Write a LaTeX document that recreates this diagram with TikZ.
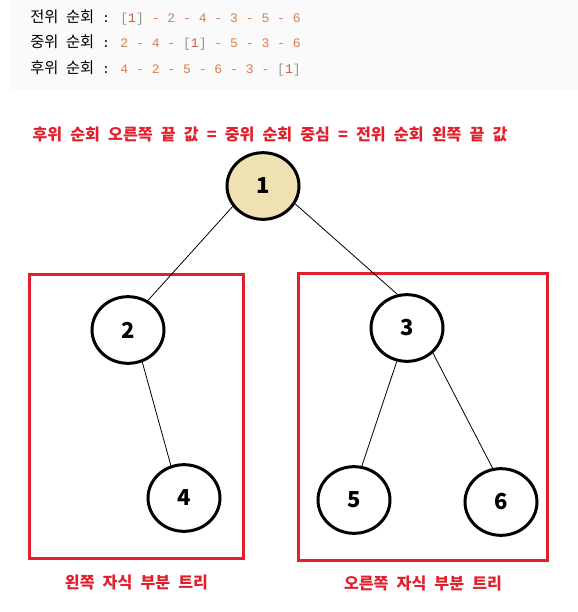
\documentclass[tikz,border=0pt]{standalone}
\usepackage{fontspec}
\usepackage{xcolor}
\usetikzlibrary{positioning,shapes.geometric}
\newfontfamily\kr[WordSpace=2.2]{Noto Sans CJK KR}
\newfontfamily\mono{Liberation Mono}
\definecolor{boxred}{RGB}{225,32,45}
\definecolor{rootfill}{RGB}{238,226,178}
\definecolor{numorange}{RGB}{214,130,80}
\definecolor{firstorange}{RGB}{200,95,60}
\definecolor{brackgray}{RGB}{150,150,150}
\definecolor{listgray}{RGB}{250,250,250}
\newcommand{\dsh}{\textcolor{numorange}{-}}
\newcommand{\nm}[1]{\textcolor{numorange}{#1}}
\newcommand{\rt}{\textcolor{brackgray}{[}\textcolor{firstorange}{1}\textcolor{brackgray}{]}}
\newcommand{\hname}[1]{{\kr\fontsize{11.5}{13}\selectfont #1}}
\tikzset{
    >=stealth,
    font=\kr,
    order line/.style={anchor=west,inner sep=0pt,font=\fontsize{9.8}{11}\selectfont},
    red title/.style={align=center,text=boxred,inner sep=0pt,font=\kr\bfseries\fontsize{12.1}{14}\selectfont},
    tree node/.style={ellipse,draw,line width=2.25pt,minimum width=54pt,minimum height=50pt,inner sep=0pt,font=\kr\bfseries\fontsize{16.5}{18}\selectfont},
    root node/.style={tree node,fill=rootfill},
    subtree box/.style={draw=boxred,line width=2.25pt,inner sep=0pt},
    tree edge/.style={line width=0.6pt}
}
\begin{document}
\begin{tikzpicture}[x=0.75pt,y=-0.75pt]
    \useasboundingbox (0,0) rectangle (578,612);
    \fill[listgray] (10,0) rectangle (578,90);
    % traversal lists
    \node[order line] (pre) at (30,18) {\hname{전위 순회}{\mono{} : \rt{} \dsh{} \nm{2} \dsh{} \nm{4} \dsh{} \nm{3} \dsh{} \nm{5} \dsh{} \nm{6}}};
    \node[order line] (in) at (30,43) {\hname{중위 순회}{\mono{} : \nm{2} \dsh{} \nm{4} \dsh{} \rt{} \dsh{} \nm{5} \dsh{} \nm{3} \dsh{} \nm{6}}};
    \node[order line] (post) at (30,68) {\hname{후위 순회}{\mono{} : \nm{4} \dsh{} \nm{2} \dsh{} \nm{5} \dsh{} \nm{6} \dsh{} \nm{3} \dsh{} \rt}};
    \node[red title] (title) at (270,134) {후위 순회 오른쪽 끝 값 = 중위 순회 중심 = 전위 순회 왼쪽 끝 값};
    % subtree boxes
    \node[subtree box,minimum width=160.5pt,minimum height=213pt] (leftbox) at (136.5,416.5) {};
    \node[subtree box,minimum width=186.75pt,minimum height=215.25pt] (rightbox) at (423,417) {};
    \node[red title] (leftlabel) [below = 11pt of leftbox] {왼쪽 자식 부분 트리};
    \node[red title] (rightlabel) [below = 10pt of rightbox] {오른쪽 자식 부분 트리};
    % tree
    \node[root node] (1) at (263,186) {1};
    \node[tree node, on grid] (2) [below left = 108pt and 101.25pt of 1] {2};
    \node[tree node, on grid] (3) [below right = 106.5pt and 108pt of 1] {3};
    \node[tree node, on grid] (4) [below right = 126pt and 42pt of 2] {4};
    \node[tree node, on grid] (5) [below left = 129pt and 39.75pt of 3] {5};
    \node[tree node, on grid] (6) [below right = 130.5pt and 70.5pt of 3] {6};
    \path[tree edge]
        (1.214) edge (2.56)
        (1.331) edge (3.106)
        (2.294) edge (4.112)
        (3.253) edge (5.77)
        (3.316) edge (6.104)
        ;
\end{tikzpicture}
\end{document}
